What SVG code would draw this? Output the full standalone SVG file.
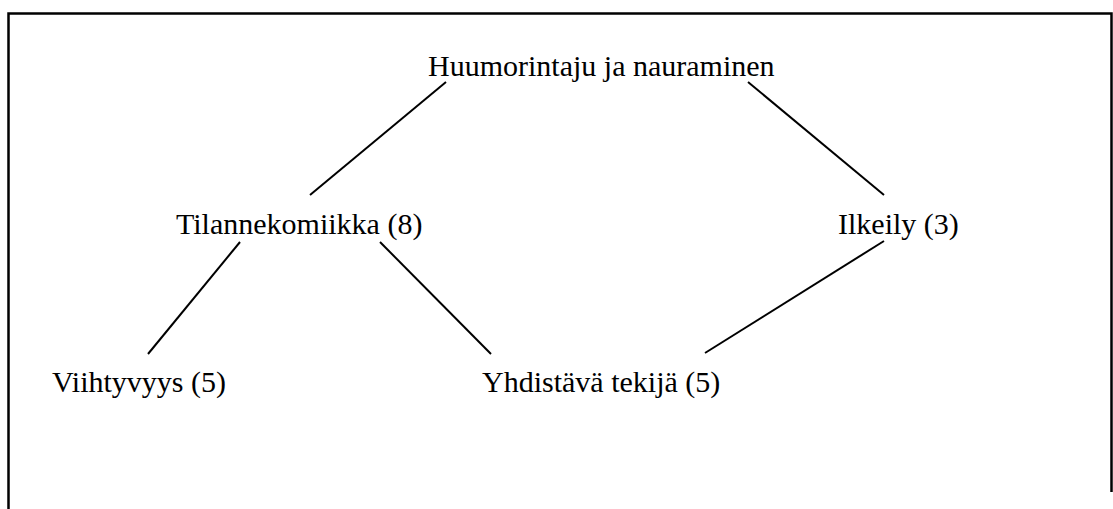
<svg xmlns="http://www.w3.org/2000/svg" width="1113" height="509" viewBox="0 0 1113 509">
<style>
.t{font-family:"Liberation Serif","Times New Roman",serif;font-size:30px;fill:#000}
.c line{stroke:#000;stroke-width:2;stroke-linecap:butt}
.b{stroke:#000;stroke-width:2.5;fill:none}
</style>
<rect width="1113" height="509" fill="#fff"/>
<path class="b" d="M8.5,509 V13.5 H1111.5 V492"/>
<g id="connectors" class="c">
<line x1="446" y1="82" x2="310" y2="195"/>
<line x1="748" y1="82" x2="884" y2="195"/>
<line x1="240" y1="242" x2="148" y2="354"/>
<line x1="380" y1="242" x2="491" y2="354"/>
<line x1="884" y1="241" x2="705" y2="353"/>
</g>
<g id="node-huumorintaju"><text class="t" x="428" y="76">Huumorintaju ja nauraminen</text></g>
<g id="node-tilannekomiikka"><text class="t" x="176" y="234">Tilannekomiikka (8)</text></g>
<g id="node-ilkeily"><text class="t" x="838" y="234">Ilkeily (3)</text></g>
<g id="node-viihtyvyys"><text class="t" x="52" y="392">Viihtyvyys (5)</text></g>
<g id="node-yhdistava"><text class="t" x="482" y="392">Yhdistävä tekijä (5)</text></g>
</svg>
